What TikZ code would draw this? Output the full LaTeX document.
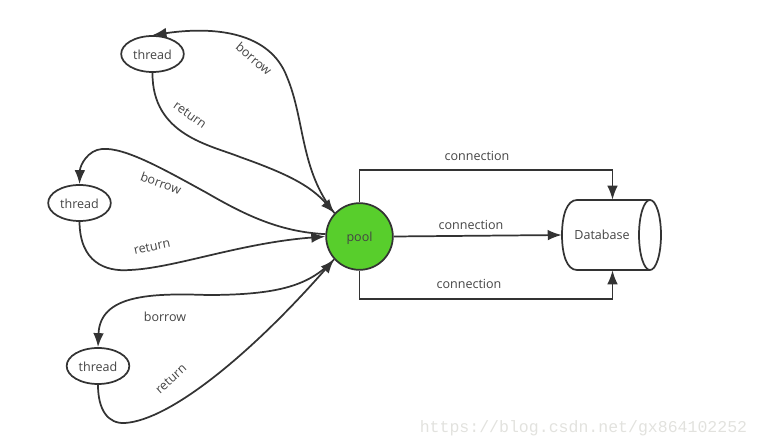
\documentclass[tikz,border=0pt]{standalone}
\usepackage{fontspec}
\setmainfont{Open Sans}
\newfontfamily\markfont{Liberation Mono}
\usetikzlibrary{arrows.meta,shapes.geometric}

\begin{document}
\begin{tikzpicture}[x=0.75pt,y=-0.75pt,>={Latex[length=10.5pt,width=8pt]},font=\fontsize{9.4}{11}\selectfont,text=inkgray]
  \definecolor{inkgray}{HTML}{444444}
  \definecolor{linegray}{HTML}{333333}
  \definecolor{poolgreen}{HTML}{58CE2C}
  \definecolor{markgray}{HTML}{E2E2DE}
  \tikzstyle{thread}=[draw=linegray,ellipse,line width=1.3pt,inner sep=0pt,text height=8pt,minimum width=47pt,minimum height=27pt]
  \tikzstyle{link}=[draw=linegray,line width=1.3pt]
  \useasboundingbox (0,0) rectangle (760,448);
  \node[thread] (threada) at (152.5,54) {thread};
  \node[thread] (threadb) at (79.5,203) {thread};
  \node[thread] (threadc) at (98,366) {thread};
  \node[circle,draw=linegray,fill=poolgreen,line width=1.3pt,inner sep=0pt,text height=10pt,minimum size=50pt] (pool) at (359.5,236.5) {pool};
  \node[minimum width=74.25pt,minimum height=52.5pt,inner sep=0pt] (db) at (611.5,235) {};
  \node (dbname) at (602,235) {Database};
  \draw[link] (650,200) -- (577,200) .. controls (567,200) and (562,215) .. (562,235) .. controls (562,255) and (567,270) .. (577,270) -- (650,270);
  \draw[link] (650,235) ellipse[x radius=11,y radius=35];
  \coordinate (topbend) at (612.5,170);
  \coordinate (lowbend) at (612.5,299);
  \draw[link,->] (pool.137) .. controls (300,170) and (305,120) .. (287,77) .. controls (270,32) and (215,26) .. (threada.north);
  \draw[link,->] (threada.south) .. controls (152,135) and (210,145) .. (240,157) .. controls (285,173) and (310,185) .. (pool.137);
  \draw[link,->] (pool.176) .. controls (280,232) and (245,215) .. (207,193) .. controls (165,170) and (125,147) .. (102,149) .. controls (88,150) and (80,165) .. (threadb.north);
  \draw[link,->] (threadb.south) .. controls (80,262) and (105,272) .. (130,270) .. controls (175,268) and (240,243) .. (pool.west);
  \draw[link,->] (pool.222) .. controls (310,285) and (280,295) .. (207,295) .. controls (150,293) and (100,295) .. (threadc.north);
  \draw[link,->] (threadc.south) .. controls (98,410) and (108,424) .. (125,423) .. controls (170,420) and (250,355) .. (pool.222);
  \draw[link,->] (pool.north) |- (topbend) -- (topbend |- db.north);
  \draw[link,->] (pool.east) -- (db.west);
  \draw[link,->] (pool.south) |- (lowbend) -- (lowbend |- db.south);
  \node[rotate=-40] (ba) at (254,59) {borrow};
  \node[rotate=-35] (ra) at (190,115) {return};
  \node[rotate=-20] (bb) at (161,183) {borrow};
  \node[rotate=12] (rb) at (152,247) {return};
  \node (bc) at (165,317) {borrow};
  \node[rotate=42] (rc) at (171,379) {return};
  \node (ca) at (477,156) {connection};
  \node (cb) at (471,225) {connection};
  \node (cc) at (469,284) {connection};
  \node[text=markgray,font=\markfont\fontsize{12.4}{14}\selectfont] (mark) at (583.5,428) {https://blog.csdn.net/gx864102252};
\end{tikzpicture}
\end{document}
